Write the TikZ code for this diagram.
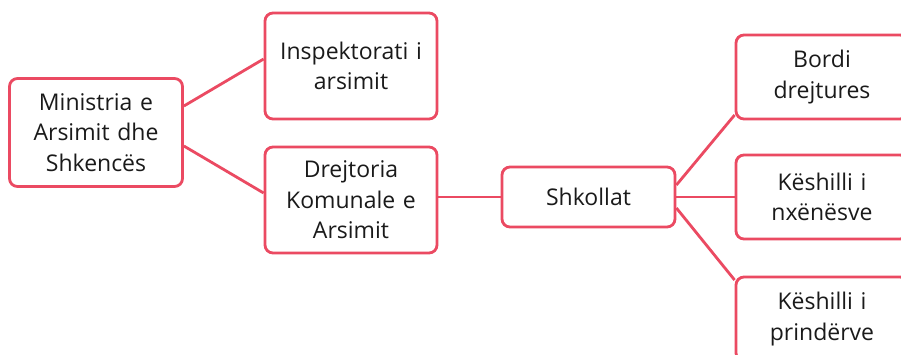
\documentclass[tikz,border=0pt]{standalone}
\usepackage{fontspec}
\setmainfont{Open Sans}
\usetikzlibrary{calc}
\definecolor{boxred}{HTML}{EB4A62}
\definecolor{txt}{HTML}{1A1A1A}
\tikzset{
  orgbox/.style={draw=boxred, line width=2.8pt, rounded corners=8pt, fill=white,
    align=center, text width=165pt, inner sep=0pt, text=txt,
    font=\fontsize{23}{30.5}\selectfont, minimum width=#1},
  orgbox/.default=173pt,
  conn/.style={draw=boxred, line width=2.8pt}
}
\begin{document}
\begin{tikzpicture}[x=1pt,y=-1pt]
\clip (0,0) rectangle (901,354);
\fill[white] (0,0) rectangle (901,354);
\node[orgbox, minimum height=108pt] (min) at (96,132.5) {Ministria e\\Arsimit dhe\\Shkencës};
\node[orgbox=172pt, minimum height=106pt] (insp) at (351,66) {Inspektorati i\\arsimit};
\node[orgbox=172pt, minimum height=106pt] (drej) at (351,200) {Drejtoria\\Komunale e\\Arsimit};
\node[orgbox, minimum height=60pt] (shk) at (588.5,197) {Shkollat};
\node[orgbox=172pt, minimum height=84pt] (bordi) at (822,77) {Bordi\\drejtures};
\node[orgbox=172pt, minimum height=84pt] (nx) at (822,197) {Këshilli i\\nxënësve};
\node[orgbox=172pt, minimum height=84pt] (prin) at (822,319) {Këshilli i\\prindërve};
\draw[conn] ([yshift=26.5pt]min.east) -- ([yshift=7pt]insp.west);
\draw[conn] ([yshift=-13.5pt]min.east) -- ([yshift=7pt]drej.west);
\draw[conn] (shk.west) -- (shk.west -| drej.east);
\draw[conn] ([yshift=12pt]shk.east) -- ([yshift=-38pt]bordi.west);
\draw[conn] (shk.east) -- (nx.west);
\draw[conn] ([yshift=-11pt]shk.east) -- ([yshift=39pt]prin.west);
\end{tikzpicture}
\end{document}
